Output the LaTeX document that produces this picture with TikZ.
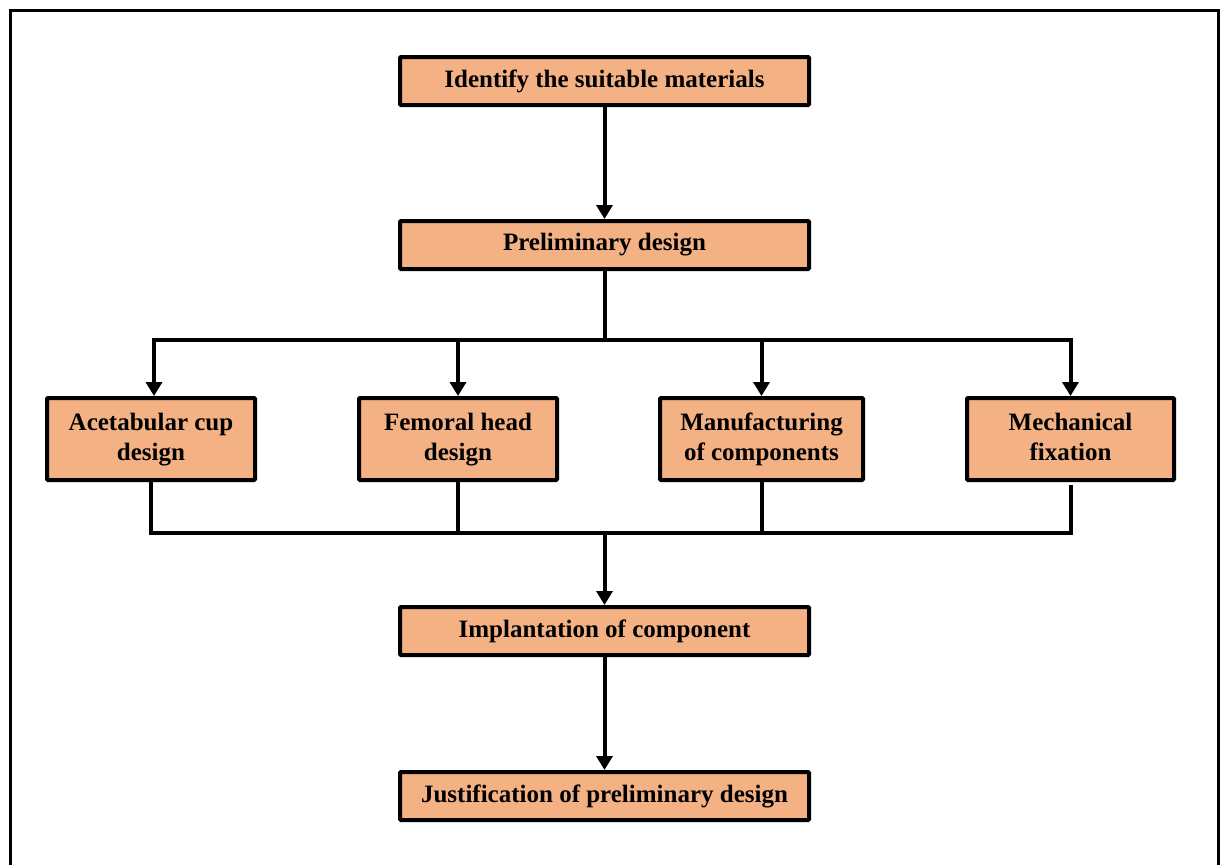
\documentclass[tikz,border=0pt]{standalone}
\usepackage{fontspec}
\setmainfont{Liberation Serif}
\usetikzlibrary{arrows.meta}
\definecolor{boxfill}{HTML}{F4B183}
\begin{document}
\begin{tikzpicture}[x=1pt,y=-1pt,
  stepbox/.style={draw=black, line width=4pt, fill=boxfill, rounded corners=1pt,
    inner sep=0pt, align=center, font=\fontsize{25}{30}\selectfont\bfseries},
  wide/.style={stepbox, minimum width=409pt, minimum height=48pt},
  mid/.style={stepbox, minimum height=82pt},
  conn/.style={line width=4pt, line join=miter},
  arr/.style={conn, -{Triangle[length=14pt,width=16pt]}}]
\useasboundingbox (0,0) rectangle (1227,865);
\draw[line width=3pt] (10,870) -- (10,10) -- (1218,10) -- (1218,870);

\node[wide] (top) at (604.5,81) {Identify the suitable materials};
\node[wide] (pre) at (604.5,245) {Preliminary design};
\node[mid, minimum width=208pt] (ace) at (151,439) {\strut Acetabular cup\\\strut design};
\node[mid, minimum width=198pt] (fem) at (458,439) {\strut Femoral head\\\strut design};
\node[mid, minimum width=203pt] (man) at (761.5,439) {\strut Manufacturing\\\strut of components};
\node[mid, minimum width=207pt] (mec) at (1070.5,439) {\strut Mechanical\\\strut fixation};
\node[wide] (imp) at (604.5,631) {Implantation of component};
\node[wide] (jus) at (604.5,796) {Justification of preliminary design};

\coordinate (b1) at (604.5,340);
\coordinate (b2) at (604.5,533);

\draw[arr] (top.south) -- (pre.north);
\draw[conn] (pre.south) -- (b1);
\draw[arr] (b1) -| ([xshift=3pt]ace.north);
\draw[arr] (b1) -| (fem.north);
\draw[arr] (b1) -| (man.north);
\draw[arr] (b1) -| (mec.north);

\draw[conn] (ace.south) |- (b2);
\draw[conn] (fem.south) |- (b2);
\draw[conn] (man.south) |- (b2);
\draw[conn] ([yshift=-3pt]mec.south) |- (b2);
\draw[arr] (b2) -- (imp.north);
\draw[arr] (imp.south) -- (jus.north);
\end{tikzpicture}
\end{document}
